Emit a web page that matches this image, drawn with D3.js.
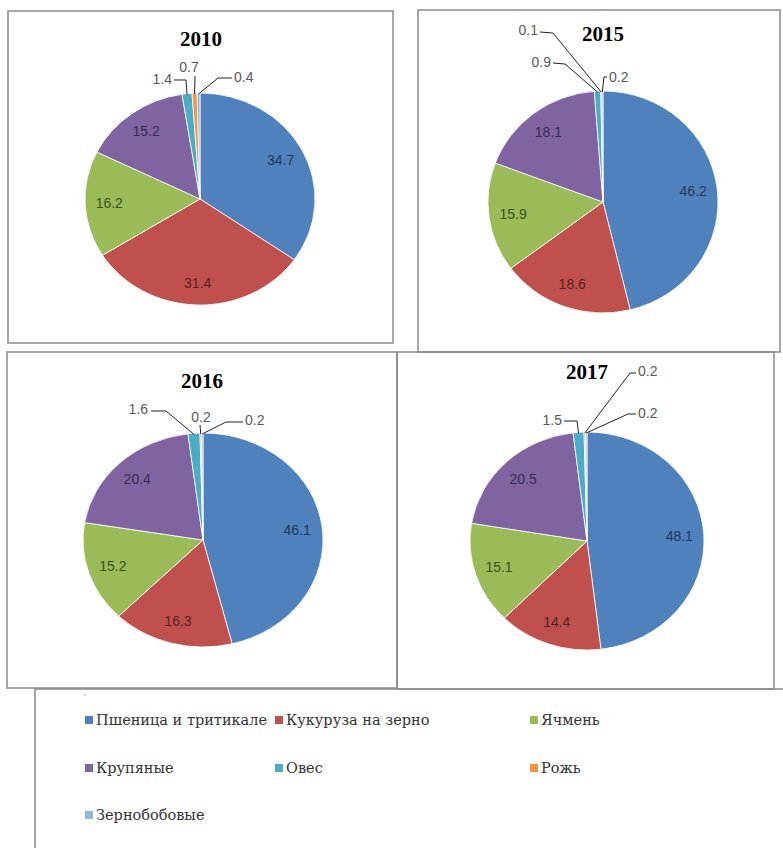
<!DOCTYPE html>
<html><head><meta charset="utf-8">
<script src="https://cdn.jsdelivr.net/npm/d3@7"></script>
<style>body{margin:0;background:#fff}</style>
</head><body>
<script>
// ---- DATA ----
const categories = ["Пшеница и тритикале","Кукуруза на зерно","Ячмень","Крупяные","Овес","Рожь","Зернобобовые"];
const years = ["2010","2015","2016","2017"];
const values2010 = [34.7,31.4,16.2,15.2,1.4,0.7,0.4];
const values2015 = [46.2,18.6,15.9,18.1,0.9,0.1,0.2];
const values2016 = [46.1,16.3,15.2,20.4,1.6,0.2,0.2];
const values2017 = [48.1,14.4,15.1,20.5,1.5,0.2,0.2];
const seriesValues = [values2010, values2015, values2016, values2017];

// ---- STYLE / LAYOUT ----
const sliceColors = ["#4F81BD","#C0504D","#9BBB59","#8064A2","#4BACC6","#F79646","#95B3D7"];
const innerLabelColors = ["#1F3A5F","#5C1F1E","#3F5216","#3A2A55"];
const serif = "'Liberation Serif','Times New Roman',serif";
const legendFont = "'DejaVu Serif','Liberation Serif',serif";
const sans = "'Liberation Sans', Arial, sans-serif";
const panels = [
  {x:8,y:11,w:385,h:332},
  {x:418,y:10,w:362,h:342},
  {x:7,y:352,w:390,h:336},
  {x:397,y:352,w:377,h:337}
];
const pies = [
  {cx:200,cy:199,rx:115,ry:106,tx:201,ty:46},
  {cx:603,cy:202,rx:115,ry:111,tx:603,ty:41},
  {cx:203,cy:540,rx:120,ry:107,tx:202,ty:388},
  {cx:587,cy:541,rx:117,ry:109,tx:587,ty:379}
];
// outside label placements for small slices (indices 4,5,6)
const outside = [
  [ {i:4,tx:172,ty:84,a:"end",p1:[174,80],p2:[186,80]},
    {i:5,tx:189,ty:72,a:"middle",p1:[195,76],p2:[195,76]},
    {i:6,tx:234,ty:82,a:"start",p1:[232,78],p2:[218,78]} ],
  [ {i:4,tx:551,ty:67,a:"end",p1:[553,63],p2:[565,64]},
    {i:5,tx:538,ty:35,a:"end",p1:[540,32],p2:[553,33]},
    {i:6,tx:609,ty:82,a:"start",p1:[607,77],p2:[604,77]} ],
  [ {i:4,tx:148,ty:414,a:"end",p1:[151,411],p2:[166,411]},
    {i:5,tx:201,ty:422,a:"middle",p1:[200,425],p2:[200,425]},
    {i:6,tx:245,ty:425,a:"start",p1:[243,422],p2:[226,422]} ],
  [ {i:4,tx:562,ty:425,a:"end",p1:[564,421],p2:[577,421]},
    {i:5,tx:638,ty:376,a:"start",p1:[636,373],p2:[630,373]},
    {i:6,tx:638,ty:418,a:"start",p1:[636,414],p2:[628,414]} ]
];

const W = 783, H = 848;
const svg = d3.select("body").append("svg").attr("width",W).attr("height",H);
svg.append("rect").attr("width",W).attr("height",H).attr("fill","#fff");

const color = d3.scaleOrdinal().domain(categories).range(sliceColors);
const pie = d3.pie().sort(null).value(d => d);
const R = 100;
const arc = d3.arc().innerRadius(0).outerRadius(R);

// panel borders
svg.selectAll("rect.panel").data(panels).enter().append("rect")
  .attr("class","panel")
  .attr("x",d=>d.x).attr("y",d=>d.y).attr("width",d=>d.w).attr("height",d=>d.h)
  .attr("fill","none").attr("stroke","#8a8a8a").attr("stroke-width",1.5);

seriesValues.forEach((vals, k) => {
  const p = pies[k];
  const arcs = pie(vals);
  const g = svg.append("g");
  g.append("g")
    .attr("transform", `translate(${p.cx},${p.cy}) scale(${p.rx/R},${p.ry/R})`)
    .selectAll("path").data(arcs).enter().append("path")
    .attr("d", arc)
    .attr("fill", (d,i) => color(categories[i]))
    .attr("stroke", "#fff").attr("stroke-width", 0.8)
    .attr("vector-effect","non-scaling-stroke");

  // title
  g.append("text").attr("x",p.tx).attr("y",p.ty)
    .attr("text-anchor","middle")
    .attr("font-family",serif).attr("font-weight","bold")
    .attr("font-size",21).attr("fill","#000").text(years[k]);

  // inside labels
  const frac = 0.79;
  arcs.forEach((d,i) => {
    if (i > 3) return;
    const a = (d.startAngle + d.endAngle)/2;
    const x = p.cx + Math.sin(a)*p.rx*frac;
    const y = p.cy - Math.cos(a)*p.ry*frac;
    g.append("text").attr("x",x).attr("y",y).attr("dy","0.35em")
      .attr("text-anchor","middle")
      .attr("font-family",sans)
      .attr("font-size",14).attr("fill",innerLabelColors[i])
      .text(d3.format(".1f")(vals[i]));
  });

  // outside labels with leader lines
  outside[k].forEach(o => {
    const d = arcs[o.i];
    const a = (d.startAngle + d.endAngle)/2;
    const ex = p.cx + Math.sin(a)*p.rx;
    const ey = p.cy - Math.cos(a)*p.ry;
    g.append("polyline")
      .attr("points", [o.p1, o.p2, [ex, ey+1]].map(q => q.join(",")).join(" "))
      .attr("fill","none").attr("stroke","#222").attr("stroke-width",1);
    g.append("text").attr("x",o.tx).attr("y",o.ty)
      .attr("text-anchor",o.a)
      .attr("font-family",sans)
      .attr("font-size",14).attr("fill","#595959")
      .text(d3.format(".1f")(vals[o.i]));
  });
});

// legend
svg.append("rect").attr("x",35).attr("y",689).attr("width",760).attr("height",170)
  .attr("fill","none").attr("stroke","#8a8a8a").attr("stroke-width",1.5);
svg.append("circle").attr("cx",85).attr("cy",695).attr("r",0.8).attr("fill","#999");
const legCols = [85, 275, 530];
const legRows = [720, 768, 815];
const lg = svg.append("g").selectAll("g").data(categories).enter().append("g")
  .attr("transform",(d,i)=>`translate(${legCols[i%3]},${legRows[Math.floor(i/3)]})`);
lg.append("rect").attr("x",0).attr("y",-4).attr("width",8).attr("height",8)
  .attr("fill",d=>color(d));
lg.append("text").attr("x",11).attr("y",0).attr("dy","0.35em")
  .attr("font-family",legendFont).attr("font-size",14.5)
  .attr("fill","#333").text(d=>d);
</script>
</body></html>
